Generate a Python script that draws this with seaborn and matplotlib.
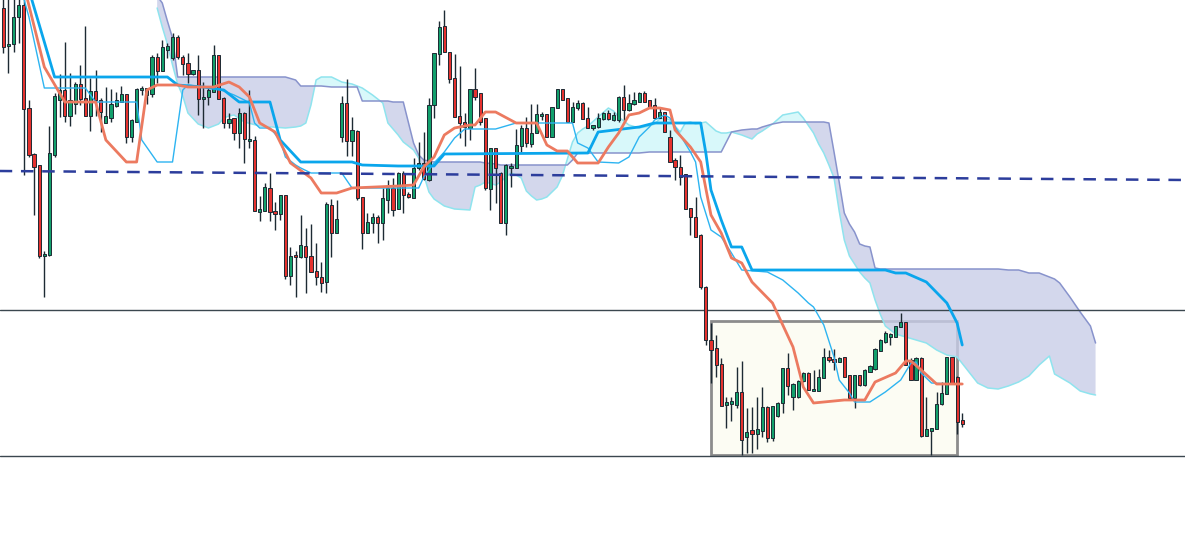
import numpy as np
import matplotlib
matplotlib.use("Agg")
import matplotlib.pyplot as plt
import seaborn as sns

# price levels are given in chart units that grow downwards (axis is inverted)
opens = [
    8, 46, 44, 17, 5, 108, 154, 165, 256, 255, 155, 100, 90, 116, 104, 84, 98, 116, 91, 100,
    123, 118, 106, 102, 94, 137, 122, 90, 95, 94, 57, 71, 50, 58, 37, 57, 63, 74, 70, 99,
    97, 92, 55, 98, 123, 118, 133, 113, 141, 140, 212, 211, 188, 211, 214, 195, 276, 255, 257, 246,
    256, 271, 277, 282, 205, 233, 137, 103, 141, 131, 197, 233, 223, 217, 223, 200, 188, 209, 173, 194,
    198, 168, 163, 180, 105, 54, 26, 52, 78, 116, 122, 128, 89, 93, 118, 189, 148, 173, 223, 168,
    168, 146, 128, 144, 133, 116, 114, 137, 108, 89, 98, 122, 108, 103, 118, 128, 127, 119, 113, 120,
    120, 97, 110, 104, 102, 93, 100, 105, 118, 112, 137, 160, 167, 174, 208, 217, 235, 287, 340, 348,
    364, 405, 404, 405, 392, 437, 430, 434, 431, 407, 438, 416, 403, 368, 397, 397, 381, 373, 391, 391,
    378, 357, 359, 362, 357, 375, 398, 375, 385, 372, 369, 351, 342, 337, 337, 327, 322, 360, 380, 358,
    436, 431, 429, 404, 394, 357, 377, 420,
]
highs = [
    -3, -3, -2, -3, -2, 100, 153, 165, 251, 126, 93, 74, 42, 73, 82, 65, 26, 78, 70, 98,
    87, 89, 92, 86, 94, 119, 88, 86, 88, 55, 53, 40, 43, 33, 35, 55, 53, 70, 55, 82,
    87, 45, 55, 97, 113, 118, 108, 112, 90, 136, 196, 183, 173, 202, 195, 195, 247, 251, 215, 228,
    224, 243, 262, 202, 199, 200, 96, 79, 117, 130, 197, 213, 213, 215, 188, 180, 178, 172, 171, 192,
    158, 142, 132, 98, 53, 21, 10, 52, 54, 66, 113, 89, 68, 93, 118, 148, 148, 172, 164, 163,
    129, 125, 117, 104, 104, 112, 114, 107, 89, 89, 98, 102, 100, 102, 107, 125, 113, 112, 110, 112,
    96, 85, 94, 92, 92, 91, 100, 98, 108, 112, 130, 158, 155, 174, 208, 197, 234, 286, 323, 335,
    358, 397, 397, 367, 361, 408, 407, 397, 387, 406, 406, 402, 368, 353, 383, 380, 372, 372, 370, 369,
    348, 350, 349, 357, 357, 375, 375, 375, 369, 365, 348, 339, 331, 333, 326, 313, 322, 358, 357, 357,
    397, 428, 392, 382, 357, 357, 376, 413,
]
lows = [
    53, 73, 52, 43, 175, 157, 215, 258, 297, 256, 157, 117, 122, 126, 114, 105, 116, 131, 116, 132,
    123, 122, 107, 102, 143, 142, 122, 95, 104, 97, 83, 71, 58, 60, 59, 75, 83, 75, 115, 128,
    105, 92, 99, 128, 128, 140, 148, 163, 148, 211, 221, 211, 221, 230, 220, 279, 285, 297, 258, 293,
    272, 285, 292, 293, 257, 233, 142, 156, 156, 200, 249, 233, 233, 243, 240, 213, 216, 209, 213, 198,
    198, 170, 180, 181, 118, 65, 52, 83, 117, 138, 146, 140, 100, 125, 190, 210, 203, 223, 235, 187,
    168, 152, 147, 147, 133, 120, 137, 137, 108, 100, 122, 122, 110, 119, 128, 130, 128, 120, 120, 121,
    122, 120, 111, 105, 102, 102, 108, 118, 118, 132, 162, 180, 185, 209, 235, 237, 289, 345, 383, 377,
    406, 428, 421, 408, 455, 453, 453, 449, 437, 442, 441, 417, 413, 395, 410, 398, 382, 390, 391, 391,
    378, 362, 370, 362, 377, 398, 408, 386, 386, 372, 370, 351, 343, 345, 337, 327, 365, 380, 380, 437,
    436, 455, 429, 405, 394, 384, 434, 427,
]
closes = [
    47, 44, 17, 5, 109, 155, 167, 256, 254, 153, 96, 90, 116, 100, 84, 99, 116, 91, 100, 112,
    116, 104, 100, 94, 137, 120, 89, 88, 88, 57, 71, 47, 46, 37, 57, 64, 74, 70, 99, 97,
    90, 55, 99, 123, 119, 133, 113, 139, 139, 211, 209, 187, 212, 214, 195, 276, 256, 257, 245, 257,
    272, 277, 283, 204, 233, 219, 103, 141, 130, 198, 233, 222, 217, 223, 198, 188, 210, 173, 195, 197,
    168, 163, 179, 105, 53, 27, 52, 79, 117, 123, 127, 89, 97, 122, 188, 148, 168, 223, 165, 166,
    145, 128, 143, 133, 114, 114, 137, 107, 89, 100, 122, 107, 103, 119, 128, 125, 118, 113, 119, 115,
    97, 110, 103, 100, 93, 102, 107, 118, 112, 132, 162, 167, 177, 209, 217, 237, 287, 340, 350, 365,
    406, 402, 401, 392, 440, 432, 434, 429, 407, 438, 406, 403, 368, 386, 384, 381, 373, 390, 389, 377,
    357, 360, 362, 358, 377, 398, 375, 385, 370, 366, 349, 340, 333, 334, 326, 322, 365, 380, 358, 436,
    429, 428, 404, 393, 357, 384, 422, 424,
]

# conversion line (salmon)
tenkan_idx = [4, 8, 12, 18, 20, 24, 26, 28, 30, 34, 36, 41, 44, 46, 48, 50, 53, 56, 60, 62,
              65, 68, 77, 80, 82, 84, 86, 88, 91, 92, 94, 96, 100, 104, 106, 108, 110, 112, 116, 118,
              120, 122, 124, 126, 128, 130, 131, 134, 136, 138, 140, 142, 144, 146, 150, 154, 156, 158, 164, 168,
              170, 174, 176, 177, 179, 182, 187]
tenkan_val = [-15, 67, 102, 102, 140, 162, 162, 90, 85, 85, 87, 87, 82, 87, 97, 123, 132, 163, 178, 193,
              193, 188, 186, 185, 167, 157, 135, 128, 125, 125, 112, 112, 123, 123, 145, 151, 151, 163, 163, 147,
              133, 115, 113, 108, 108, 110, 130, 147, 162, 215, 233, 258, 263, 282, 303, 347, 387, 403, 400, 400,
              382, 373, 361, 361, 370, 384, 384]

# base line (thick blue)
kijun_idx = [5, 8, 10, 32, 34, 39, 43, 46, 52, 54, 58, 68, 70, 77, 84, 86, 114, 116, 124, 127,
             136, 137, 138, 140, 142, 144, 146, 172, 174, 176, 180, 184, 186, 187]
kijun_val = [-10, 42, 77, 77, 85, 87, 90, 102, 102, 140, 162, 162, 165, 166, 166, 154, 153, 132, 127, 123,
             123, 153, 190, 220, 247, 247, 270, 270, 273, 273, 282, 303, 323, 345]

# thin blue line
fast_idx = [3, 5, 8, 16, 18, 26, 27, 30, 33, 35, 36, 39, 42, 45, 47, 48, 49, 50, 52, 54,
            55, 57, 58, 60, 66, 68, 81, 82, 84, 86, 88, 90, 96, 100, 111, 112, 114, 116, 120, 122,
            124, 126, 127, 129, 130, 132, 134, 135, 136, 138, 140, 142, 144, 149, 152, 155, 157, 158, 160, 162,
            163, 165, 166, 169, 172, 175, 177, 178, 179, 181, 185]
fast_val = [-20, 17, 88, 88, 102, 102, 140, 162, 162, 90, 85, 87, 89, 95, 100, 103, 123, 128, 128, 140,
            157, 165, 168, 173, 173, 188, 188, 177, 163, 152, 138, 129, 129, 123, 123, 143, 148, 162, 163, 157,
            137, 127, 120, 115, 118, 135, 152, 162, 197, 230, 237, 253, 270, 272, 280, 293, 303, 307, 325, 357,
            380, 393, 402, 402, 392, 380, 363, 362, 373, 383, 384]

# cloud, leading spans A and B
cloud_idx = [30, 31, 32, 33, 34, 35, 36, 38, 40, 42, 43, 44, 45, 47, 50, 55, 57, 58, 59, 60,
             61, 62, 64, 66, 68, 69, 70, 72, 74, 75, 76, 77, 78, 80, 81, 82, 83, 84, 86, 88,
             91, 92, 93, 94, 96, 97, 98, 99, 100, 101, 102, 103, 104, 105, 106, 107, 108, 109, 110, 111,
             112, 113, 114, 116, 118, 119, 120, 122, 124, 126, 127, 128, 129, 130, 131, 132, 133, 134, 135, 137,
             139, 140, 141, 142, 144, 146, 147, 148, 150, 152, 154, 155, 156, 158, 159, 160, 161, 162, 163, 164,
             165, 166, 167, 168, 169, 170, 171, 172, 174, 176, 178, 180, 182, 184, 186, 188, 190, 192, 194, 196,
             198, 200, 202, 204, 205, 206, 208, 210, 212, 213]
span_a = [8, 27, 44, 65, 84, 96, 113, 124, 128, 124, 118, 116, 115, 122, 126, 128, 127, 126, 123, 105,
          80, 77, 77, 82, 84, 86, 88, 95, 103, 123, 129, 135, 142, 150, 158, 175, 192, 199, 206, 209,
          210, 187, 185, 182, 185, 182, 177, 173, 175, 178, 191, 196, 200, 199, 197, 192, 187, 176, 159, 142,
          133, 129, 126, 117, 108, 111, 117, 125, 128, 126, 124, 119, 118, 120, 126, 132, 123, 122, 124, 122,
          131, 133, 133, 132, 135, 139, 134, 131, 124, 115, 113, 112, 118, 133, 144, 153, 165, 178, 211, 240,
          256, 264, 272, 278, 283, 300, 314, 326, 334, 337, 340, 343, 350, 355, 357, 370, 383, 388, 389, 386,
          382, 376, 365, 356, 374, 377, 383, 391, 394, 395]
span_b = [-4, 3, 21, 38, 77, 77, 77, 77, 77, 77, 77, 77, 77, 77, 77, 77, 80, 86, 86, 86,
          86, 86, 87, 87, 87, 87, 101, 101, 101, 101, 102, 102, 102, 143, 155, 160, 161, 162, 162, 162,
          162, 162, 162, 163, 164, 165, 165, 165, 165, 165, 165, 165, 165, 165, 165, 165, 165, 165, 165, 160,
          153, 153, 153, 153, 153, 153, 153, 153, 153, 152, 152, 152, 152, 152, 152, 152, 152, 152, 152, 152,
          152, 152, 142, 132, 130, 129, 129, 127, 124, 122, 122, 122, 122, 122, 122, 122, 123, 152, 182, 213,
          224, 232, 244, 246, 247, 268, 269, 269, 269, 269, 269, 269, 269, 269, 269, 269, 269, 269, 269, 270,
          270, 273, 273, 277, 279, 283, 297, 312, 326, 343]

# long dashed trend line and horizontal levels
trend_idx = [-0.7, 230.5]
trend_val = [171, 180]
levels = [310, 456]

# consolidation range box
box_start, box_end = 137.95, 185.9
box_top, box_bottom = 321, 455

GREEN = "#12a06c"
RED = "#e5322f"
OUTLINE = "#1d2a33"

sns.set_theme(style="white")

fig = plt.figure(figsize=(11.85, 5.43), dpi=100)
ax = fig.add_axes([0, 0, 1, 1])
ax.set_facecolor("white")

# range box
ax.add_patch(plt.Rectangle(
    (box_start, box_top), box_end - box_start, box_bottom - box_top,
    facecolor="#fcfcf3", edgecolor="#8c8c8c", linewidth=2, zorder=1
))

# cloud
c_idx = np.array(cloud_idx)
a = np.array(span_a, dtype=float)
b = np.array(span_b, dtype=float)
ax.fill_between(c_idx, a, b, where=a <= b, interpolate=True, color="#d4f8fa", alpha=0.9, lw=0, zorder=2)
ax.fill_between(c_idx, a, b, where=a > b, interpolate=True, color="#c8cde8", alpha=0.8, lw=0, zorder=2)
sns.lineplot(x=cloud_idx, y=span_a, ax=ax, color="#8fe4ee", linewidth=1.1, zorder=2)
sns.lineplot(x=cloud_idx, y=span_b, ax=ax, color="#8893cc", linewidth=1.1, zorder=2)

for lv in levels:
    ax.axhline(lv, color="#3b474f", linewidth=1, zorder=2)

# candles
idx = np.arange(len(opens))
o = np.array(opens, dtype=float)
c = np.array(closes, dtype=float)
up = c <= o
ax.vlines(idx, highs, lows, color=OUTLINE, linewidth=1, zorder=3)
body = c - o
body = np.where(np.abs(body) < 1.5, np.where(up, -1.5, 1.5), body)
ax.bar(idx, body, bottom=o, width=0.62, color=np.where(up, GREEN, RED),
       edgecolor=OUTLINE, linewidth=0.7, zorder=3)

# indicator lines
sns.lineplot(x=fast_idx, y=fast_val, ax=ax, color="#2db4f1", linewidth=1, zorder=4)
sns.lineplot(x=kijun_idx, y=kijun_val, ax=ax, color="#0aa6ec", linewidth=2, zorder=4)
sns.lineplot(x=tenkan_idx, y=tenkan_val, ax=ax, color="#ec7a60", linewidth=2, zorder=4)
ax.plot(trend_idx, trend_val, color="#2c3d9c", linewidth=1.8, dashes=(5, 3.5), zorder=4)

ax.set_xlim(-0.644, 230.44)
ax.set_ylim(543, 0)
ax.axis("off")

fig.savefig("out.png", dpi=100)
